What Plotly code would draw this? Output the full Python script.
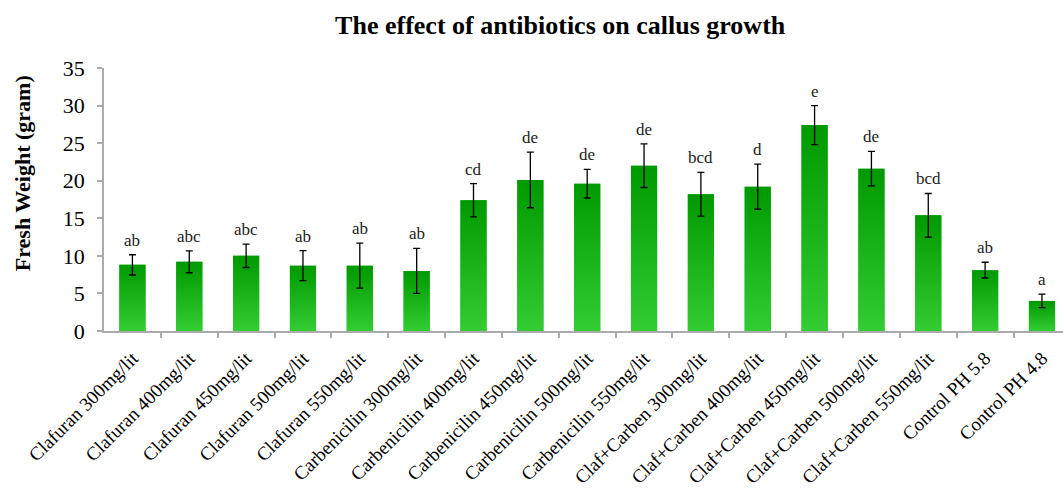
import plotly.graph_objects as go

categories = [
    "Clafuran 300mg/lit", "Clafuran 400mg/lit", "Clafuran 450mg/lit",
    "Clafuran 500mg/lit", "Clafuran 550mg/lit", "Carbenicilin 300mg/lit",
    "Carbenicilin 400mg/lit", "Carbenicilin 450mg/lit", "Carbenicilin 500mg/lit",
    "Carbenicilin 550mg/lit", "Claf+Carben 300mg/lit", "Claf+Carben 400mg/lit",
    "Claf+Carben 450mg/lit", "Claf+Carben 500mg/lit", "Claf+Carben 550mg/lit",
    "Control PH 5.8", "Control PH 4.8",
]
fresh_weight = [8.8, 9.2, 10.0, 8.7, 8.7, 8.0, 17.4, 20.1, 19.6, 22.0,
                18.2, 19.2, 27.4, 21.6, 15.4, 8.1, 4.0]
std_error = [1.35, 1.45, 1.55, 2.0, 3.0, 3.0, 2.2, 3.7, 1.9, 2.9,
             2.9, 3.0, 2.6, 2.3, 2.9, 1.05, 0.9]
letters = ["ab", "abc", "abc", "ab", "ab", "ab", "cd", "de", "de", "de",
           "bcd", "d", "e", "de", "bcd", "ab", "a"]

FONT = "Liberation Serif"
BAR_W = 0.46
TOP_GREEN = "#009900"
BOTTOM_GREEN = "#33cc33"
AXIS_GREY = "#ababab"

fig = go.Figure()

# base bars (solid), carrying the data
fig.add_trace(go.Bar(
    x=list(range(len(categories))), y=fresh_weight, width=BAR_W,
    marker=dict(color="#1bb31b", line=dict(width=0)),
    showlegend=False, hoverinfo="skip",
))

# gradient overlay per bar, built from the data values
for i, v in enumerate(fresh_weight):
    xs = [i - BAR_W / 2, i + BAR_W / 2, i + BAR_W / 2, i - BAR_W / 2, i - BAR_W / 2]
    ys = [0, 0, v, v, 0]
    fig.add_trace(go.Scatter(
        x=xs, y=ys, mode="lines", fill="toself",
        line=dict(width=0, color="rgba(0,0,0,0)"),
        fillgradient=dict(type="vertical", start=0, stop=v,
                          colorscale=[[0, BOTTOM_GREEN], [1, TOP_GREEN]]),
        showlegend=False, hoverinfo="skip",
    ))

# error bars
fig.add_trace(go.Scatter(
    x=list(range(len(categories))), y=fresh_weight, mode="markers",
    marker=dict(size=0.1, color="rgba(0,0,0,0)"),
    error_y=dict(type="data", array=std_error, visible=True,
                 color="black", thickness=1.3, width=3.5),
    showlegend=False, hoverinfo="skip",
))

for i, (v, e, t) in enumerate(zip(fresh_weight, std_error, letters)):
    fig.add_annotation(x=i, y=v + e, text=t, showarrow=False,
                       yanchor="bottom", yshift=3,
                       font=dict(family=FONT, size=17, color="#222222"))

# y-axis title as annotation (placed like the reference)
fig.add_annotation(text="<b>Fresh Weight (gram)</b>", textangle=-90,
                   xref="paper", yref="paper", x=0, y=0.6,
                   xanchor="center", yanchor="middle", xshift=-82,
                   showarrow=False,
                   font=dict(family=FONT, size=22, color="black"))

fig.update_layout(
    width=1063, height=492,
    margin=dict(l=104, r=0, t=68, b=161),
    plot_bgcolor="white", paper_bgcolor="white",
    title=dict(text="<b>The effect of antibiotics on callus growth</b>",
               x=0.527, xanchor="center", y=0.95, yanchor="middle",
               font=dict(family=FONT, size=26, color="black")),
    font=dict(family=FONT, color="black"),
    bargap=0.54,
)
fig.update_xaxes(
    tickmode="array", tickvals=list(range(len(categories))), ticktext=categories,
    range=[-0.5, 16.37], tickangle=-45, automargin=False,
    tickfont=dict(family=FONT, size=19, color="black"),
    ticklabelstandoff=7,
    showline=True, linecolor=AXIS_GREY, linewidth=1.5,
    showgrid=False, zeroline=False, ticks="",
)
# boundary tick marks via minor ticks
fig.update_xaxes(minor=dict(tickmode="array",
                            tickvals=[i + 0.5 for i in range(len(categories))],
                            ticks="outside", ticklen=5, tickcolor=AXIS_GREY,
                            tickwidth=1.5, showgrid=False))
fig.update_yaxes(
    range=[0, 35], dtick=5, automargin=False,
    tickfont=dict(family=FONT, size=22, color="black"),
    showline=True, linecolor=AXIS_GREY, linewidth=1.5,
    showgrid=False, zeroline=False, ticks="outside", ticklen=5,
    tickcolor=AXIS_GREY, tickwidth=1.5, ticklabelstandoff=8,
)

fig.write_html("out.html", config={"displayModeBar": False},
               post_script="document.body.style.margin='0';")
